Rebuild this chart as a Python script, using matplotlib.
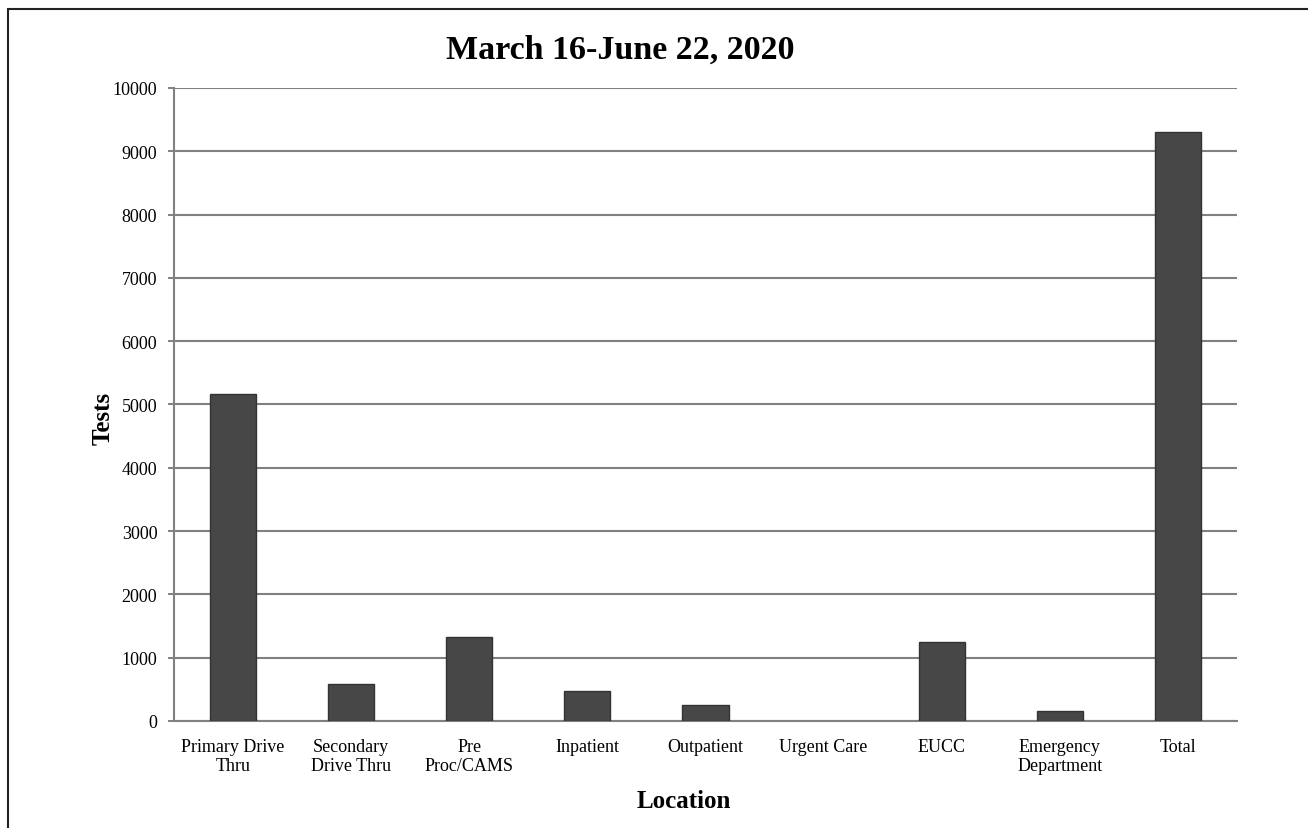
import matplotlib
matplotlib.use('Agg')
import matplotlib.pyplot as plt
from matplotlib.patches import Rectangle

locations = ['Primary Drive\nThru', 'Secondary\nDrive Thru', 'Pre\nProc/CAMS',
             'Inpatient', 'Outpatient', 'Urgent Care', 'EUCC',
             'Emergency\nDepartment', 'Total']
tests = [5165, 585, 1327, 470, 250, 0, 1245, 158, 9305]
y_ticks = list(range(0, 10001, 1000))

W, H = 1308, 829


def main():
    plt.rcParams['font.family'] = ['Liberation Serif', 'DejaVu Serif']
    fig = plt.figure(figsize=(W / 100, H / 100), dpi=100)
    ax = fig.add_axes([174 / W, 1 - 722 / H, (1237 - 174) / W, (722 - 89) / H])

    x = range(len(locations))
    bars = ax.bar(x, tests, width=0.39, color='#474747', edgecolor='#333333',
                  linewidth=1.0, zorder=3)
    # an empty category should leave no mark at all
    for b, v in zip(bars, tests):
        if v == 0:
            b.set_linewidth(0)

    ax.set_xlim(-0.5, len(locations) - 0.5)
    ax.set_ylim(0, 10000)
    ax.set_yticks(y_ticks)
    ax.set_xticks(list(x))
    ax.set_xticklabels(locations, fontsize=13, linespacing=1.15)
    ax.tick_params(axis='x', length=0, pad=12)
    ax.tick_params(axis='y', labelsize=13, length=4, width=1.3,
                   color='#777777', pad=8)

    ax.yaxis.grid(True, color='#808080', linewidth=1.5, zorder=0)
    for s in ['top', 'right']:
        ax.spines[s].set_visible(False)
    ax.spines['left'].set_color('#808080')
    ax.spines['left'].set_linewidth(1.5)
    ax.spines['bottom'].set_color('#808080')
    ax.spines['bottom'].set_linewidth(1.5)

    fig.text(620 / W, 1 - 50 / H, 'March 16-June 22, 2020', fontsize=24.5,
             fontweight='bold', ha='center', va='center')
    fig.text(103 / W, 1 - 418 / H, 'Tests', fontsize=18, fontweight='bold',
             rotation=90, ha='center', va='center')
    fig.text(684 / W, 1 - 802 / H, 'Location', fontsize=18, fontweight='bold',
             ha='center', va='center')

    # outer frame, only left and top edges fall inside the picture
    fig.patches.append(Rectangle((8 / W, -0.1), 1.2, 1 - 10 / H + 0.1,
                                 transform=fig.transFigure, fill=False,
                                 edgecolor='#222222', linewidth=1.5))

    fig.savefig('out.png', dpi=100)


if __name__ == '__main__':
    main()
